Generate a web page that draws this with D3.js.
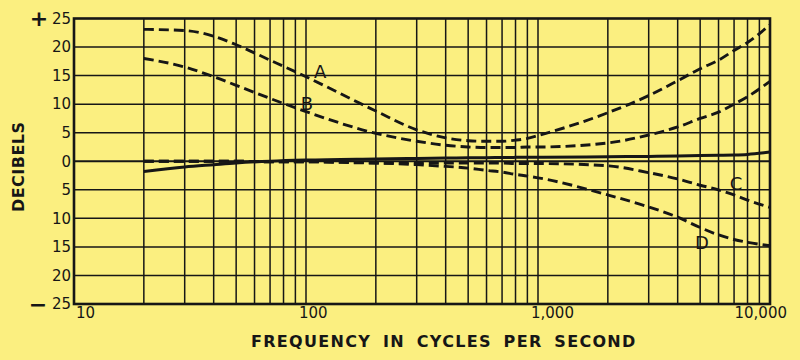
<!DOCTYPE html>
<html>
<head>
<meta charset="utf-8">
<script src="https://cdn.jsdelivr.net/npm/d3@7"></script>
<style>
  html, body { margin: 0; padding: 0; background: #fbef80; }
  svg { display: block; }
  text { font-family: "DejaVu Sans", "Liberation Sans", Arial, sans-serif; fill: #161616; }
</style>
</head>
<body>
<svg id="chart" width="800" height="360"></svg>
<script>
// ---- data ----
const freqs   = [20, 30, 40, 50, 70, 100, 200, 300, 400, 500, 600, 700, 800, 900, 1000, 2000, 3000, 4000, 5000, 6000, 7000, 8000, 10000];
const curveA  = [23.1, 22.9, 21.9, 20.4, 17.7, 14.8, 8.8, 5.5, 4.1, 3.6, 3.5, 3.5, 3.7, 4.0, 4.5, 8.5, 11.5, 14.1, 16.2, 17.7, 19.4, 20.8, 23.9];
const curveB  = [18.0, 16.5, 14.8, 13.3, 11.0, 8.7, 4.9, 3.5, 2.8, 2.5, 2.4, 2.4, 2.4, 2.5, 2.5, 3.2, 4.6, 6.0, 7.5, 8.6, 10.0, 11.3, 14.0];
const curveC  = [0, 0, 0, 0, -0.1, -0.1, -0.3, -0.3, -0.3, -0.3, -0.3, -0.3, -0.4, -0.4, -0.4, -0.8, -2.0, -3.1, -4.2, -5.0, -5.9, -6.8, -8.1];
const curveD  = [0, 0, 0, 0, -0.1, -0.1, -0.3, -0.6, -0.9, -1.2, -1.6, -1.9, -2.3, -2.6, -2.9, -5.9, -8.0, -9.8, -11.6, -12.9, -13.7, -14.2, -14.8];
const flat    = [-1.8, -1.0, -0.6, -0.3, 0.0, 0.2, 0.4, 0.5, 0.55, 0.6, 0.62, 0.65, 0.68, 0.7, 0.7, 0.8, 0.85, 0.9, 1.0, 1.05, 1.1, 1.2, 1.6];
const yTicks  = [25, 20, 15, 10, 5, 0, -5, -10, -15, -20, -25];
const xLabels = [10, 100, 1000, 10000];
const xLabelText = ["10", "100", "1,000", "10,000"];
const curveNames = ["A", "B", "C", "D"];
const labelFreq = [115, 101, 7130, 5090];
const labelDb   = [14.5, 9.0, -5.1, -15.3];

const svg = d3.select("#chart");
const ink = "#161616";

const x = d3.scaleLog().domain([10, 10000]).range([74, 770]);
const y = d3.scaleLinear().domain([-25, 25]).range([304, 18.5]);

// grid
const grid = svg.append("g");
grid.selectAll("line.v").data(x.ticks().filter(t => t > 10 && t < 10000)).join("line")
  .attr("x1", d => x(d)).attr("x2", d => x(d))
  .attr("y1", y(25)).attr("y2", y(-25))
  .attr("stroke", ink).attr("stroke-width", 1.5);
grid.selectAll("line.h").data(yTicks.filter(t => Math.abs(t) < 25)).join("line")
  .attr("x1", x(10)).attr("x2", x(10000))
  .attr("y1", d => y(d)).attr("y2", d => y(d))
  .attr("stroke", ink).attr("stroke-width", d => d === 0 ? 2.2 : 1.5);
svg.append("rect")
  .attr("x", x(10)).attr("y", y(25))
  .attr("width", x(10000) - x(10)).attr("height", y(-25) - y(25))
  .attr("fill", "none").attr("stroke", ink).attr("stroke-width", 2.6);

// y axis labels
const yAxis = svg.append("g").attr("transform", `translate(${x(10)},0)`)
  .call(d3.axisLeft(y).tickValues(yTicks).tickSize(0).tickPadding(3).tickFormat(d => Math.abs(d)));
yAxis.select(".domain").remove();
yAxis.selectAll("text").attr("font-size", 15)
  .attr("font-family", '"DejaVu Sans", Arial, sans-serif').attr("fill", ink);

svg.append("text").attr("x", 39).attr("y", y(25)).attr("dy", "0.36em")
  .attr("text-anchor", "middle").attr("font-size", 22).attr("font-weight", "bold").text("+");
svg.append("text").attr("x", 38).attr("y", y(-25)).attr("dy", "0.36em")
  .attr("text-anchor", "middle").attr("font-size", 22).attr("font-weight", "bold").text("−");

// x labels
svg.selectAll("text.xl").data(xLabels).join("text")
  .attr("class", "xl")
  .attr("x", (d, i) => i === 0 ? x(d) + 2 : (i === xLabels.length - 1 ? x(d) + 17 : x(d) - 7))
  .attr("y", 318)
  .attr("text-anchor", (d, i) => i === xLabels.length - 1 ? "end" : "start")
  .attr("font-size", 15)
  .text((d, i) => xLabelText[i]);

svg.append("text").attr("x", 251).attr("y", 347)
  .attr("font-size", 16).attr("font-weight", "bold")
  .attr("letter-spacing", 1.3).attr("word-spacing", 5)
  .text("FREQUENCY IN CYCLES PER SECOND");

svg.append("text").attr("transform", "translate(23.5,212) rotate(-90)")
  .attr("font-size", 16).attr("font-weight", "bold")
  .attr("textLength", 90).attr("lengthAdjust", "spacing")
  .text("DECIBELS");

// curves
const line = vals => d3.line()
  .x((d, i) => x(freqs[i]))
  .y(d => y(d))
  .curve(d3.curveMonotoneX)(vals);

const dashed = [curveA, curveB, curveC, curveD];
svg.selectAll("path.dash").data(dashed).join("path")
  .attr("d", line)
  .attr("fill", "none").attr("stroke", ink)
  .attr("stroke-width", 2.9).attr("stroke-dasharray", "10,5");

svg.append("path").attr("d", line(flat))
  .attr("fill", "none").attr("stroke", ink).attr("stroke-width", 3);

// curve labels
svg.selectAll("text.cl").data(curveNames).join("text")
  .attr("class", "cl")
  .attr("x", (d, i) => x(labelFreq[i]))
  .attr("y", (d, i) => y(labelDb[i]))
  .attr("text-anchor", "middle")
  .attr("font-size", 18)
  .text(d => d);
</script>
</body>
</html>
